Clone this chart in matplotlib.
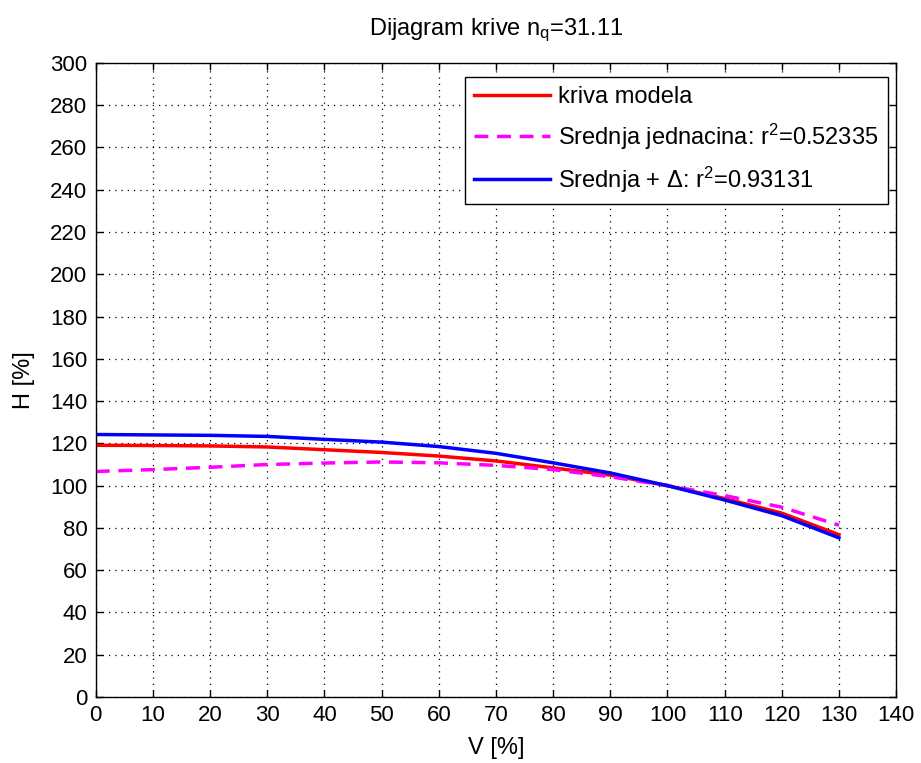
import matplotlib
matplotlib.use("Agg")
import matplotlib.pyplot as plt

plt.rcParams['font.family'] = ['Liberation Sans', 'DejaVu Sans']
plt.rcParams['mathtext.default'] = 'regular'

V = [0, 10, 20, 30, 40, 50, 60, 70, 80, 90, 100, 110, 120, 130]
H_model = [119.1, 119.0, 118.8, 118.3, 117.0, 115.7, 114.0, 111.7, 108.4, 105.0, 100.0, 93.9, 87.0, 76.8]
H_mean = [106.7, 107.6, 108.7, 110.0, 110.7, 111.2, 110.8, 109.6, 107.6, 104.2, 100.0, 95.3, 89.8, 81.3]
H_delta = [124.2, 124.0, 123.8, 123.3, 121.9, 120.6, 118.5, 115.3, 110.8, 106.0, 100.0, 93.2, 85.8, 75.3]

fig = plt.figure(figsize=(9.21, 7.63), dpi=100)
ax = fig.add_axes([0.104, 0.0865, 0.869, 0.831])
ax.plot(V, H_model, color='red', lw=2.5, label='kriva modela')
ax.plot(V, H_mean, color='magenta', lw=2.5, ls=(0, (4, 2.5)), label='Srednja jednacina: r$^2$=0.52335')
ax.plot(V, H_delta, color='blue', lw=2.5, label='Srednja + Δ: r$^2$=0.93131')

ax.set_xlim(0, 140)
ax.set_ylim(0, 300)
ax.set_xticks(range(0, 141, 10))
ax.set_yticks(range(0, 301, 20))
ax.tick_params(direction='in', top=True, right=True, labelsize=16, length=5, width=1, pad=6)
ax.grid(True, color='black', ls=(0, (1, 4)), lw=0.9)
for s in ax.spines.values():
    s.set_linewidth(1.0)
ax.set_xlabel('V [%]', fontsize=17, labelpad=8)
ax.set_ylabel('H [%]', fontsize=17, labelpad=11)
ax.set_title('Dijagram krive n$_q$=31.11', fontsize=17, pad=20)

leg = ax.legend(loc='upper right', bbox_to_anchor=(0.99, 0.978), borderaxespad=0,
                fontsize=17, fancybox=False, framealpha=1,
                edgecolor='black', handlelength=3.2,
                labelspacing=0.55, handletextpad=0.35, borderpad=0.4)
leg.get_frame().set_linewidth(1.0)

fig.savefig('out.png', dpi=100)
